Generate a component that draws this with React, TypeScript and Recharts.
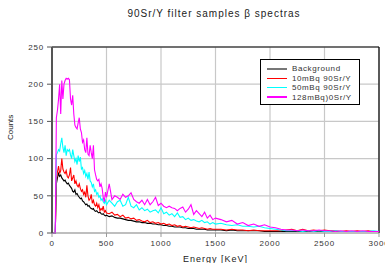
import React from 'react';
import { LineChart, Line, XAxis, YAxis, CartesianGrid, ReferenceLine } from 'recharts';

const energy = [
  0, 10, 20, 30, 40, 50, 60, 70, 80, 90, 100, 110, 120, 130, 140, 150, 160, 170, 180, 190, 200,
  210, 220, 230, 240, 250, 260, 270, 280, 290, 300, 310, 320, 330, 340, 350, 360, 370, 380, 390, 400,
  410, 420, 430, 440, 450, 460, 470, 480, 490, 500,
  525, 550, 575, 600, 625, 650, 675, 700, 725, 750, 775, 800, 825, 850, 875, 900, 925, 950, 975, 1000,
  1025, 1050, 1075, 1100, 1125, 1150, 1175, 1200, 1225, 1250, 1275, 1300, 1325, 1350, 1375, 1400,
  1425, 1450, 1475, 1500,
  1550, 1600, 1650, 1700, 1750, 1800, 1850, 1900, 1950, 2000, 2050, 2100, 2150, 2200, 2250, 2300,
  2350, 2400, 2450, 2500, 2550, 2600, 2650, 2700, 2750, 2800, 2850, 2900, 2950, 3000,
];

const background = [
  0, 0, 0, 0, 66, 74, 80, 76, 78, 74, 72, 70, 71, 68, 66, 67, 64, 62, 60, 56, 55,
  58, 52, 53, 50, 48, 46, 47, 43, 42, 40, 38, 39, 36, 37, 34, 33, 32, 33, 30, 29,
  30, 28, 27, 28, 26, 25, 26, 24, 23, 24,
  22, 23, 21, 20, 20, 19, 18, 17, 17, 16, 15, 15, 14, 14, 13, 13, 12, 12, 11, 11,
  10, 10, 9, 9, 8, 8, 8, 7, 7, 6, 6, 6, 5, 5, 5, 5,
  4, 4, 4, 4,
  4, 3, 4, 3, 3, 3, 3, 3, 2, 2, 2, 2, 2, 2, 2, 2,
  2, 2, 2, 2, 2, 2, 2, 2, 2, 2, 2, 2, 2, 2,
];

const sample10 = [
  0, 0, 0, 0, 70, 82, 90, 80, 84, 100, 86, 82, 80, 84, 76, 74, 78, 88, 70, 74, 78,
  66, 70, 64, 62, 66, 60, 56, 58, 52, 55, 48, 64, 50, 44, 46, 52, 40, 44, 38, 36,
  40, 34, 38, 30, 33, 31, 36, 28, 30, 27,
  26, 28, 24, 25, 22, 24, 20, 21, 19, 20, 17, 18, 16, 15, 17, 14, 15, 13, 14, 12,
  13, 11, 12, 10, 11, 9, 10, 8, 9, 8, 7, 8, 7, 6, 7, 6,
  5, 6, 5, 5,
  5, 4, 5, 4, 4, 3, 4, 3, 3, 3, 3, 3, 4, 5, 3, 5,
  3, 4, 3, 4, 3, 3, 2, 3, 2, 3, 2, 3, 2, 2,
];

const sample50 = [
  0, 0, 0, 0, 105, 108, 112, 110, 120, 128, 115, 108, 118, 104, 112, 110, 112, 105, 100, 112, 104,
  96, 100, 92, 104, 96, 102, 86, 88, 80, 84, 76, 80, 72, 82, 70, 68, 62, 66, 56, 58,
  52, 54, 48, 50, 44, 46, 42, 40, 44, 38,
  44, 40, 36, 42, 44, 36, 38, 48, 36, 34, 38, 31, 34, 30, 32, 28, 30, 31, 27, 34,
  26, 28, 24, 26, 22, 27, 21, 22, 18, 20, 17, 18, 16, 15, 17, 14,
  15, 12, 14, 12,
  13, 11, 10, 11, 9, 9, 8, 9, 7, 6, 5, 4, 3, 3, 3, 2,
  3, 2, 3, 2, 2, 3, 2, 2, 2, 2, 2, 2, 3, 2,
];

const sample128 = [
  0, 0, 0, 0, 155, 165, 180, 200, 160, 205, 180, 200, 205, 208, 207, 208, 206, 180, 172, 185, 160,
  145, 142, 140, 148, 155, 140, 135, 122, 125, 112, 108, 128, 106, 104, 118, 108, 100, 118, 85, 78,
  72, 70, 72, 62, 66, 60, 48, 42, 55, 48,
  66, 45, 50, 48, 45, 52, 48, 50, 54, 45, 42, 40, 44, 38, 45, 38, 42, 48, 37, 40,
  36, 34, 36, 34, 33, 30, 33, 35, 28, 32, 38, 25, 30, 26, 22, 28,
  20, 24, 18, 20,
  18, 15, 17, 12, 14, 10, 12, 9, 11, 8, 7, 5, 4, 4, 3, 4,
  3, 3, 4, 3, 3, 2, 3, 2, 3, 2, 3, 2, 2, 2,
];

const seriesNames = ['Background', '10mBq 90Sr/Y', '50mBq 90Sr/Y', '128mBq)0Sr/Y'];
const seriesKeys = ['bg', 's10', 's50', 's128'];
const seriesColors = ['#000000', '#ff0000', '#00ffff', '#ff00ff'];
const legendColors = ['#777777', '#ff0000', '#00ffff', '#ff00ff'];
const xTicks = [0, 500, 1000, 1500, 2000, 2500, 3000];
const yTicks = [0, 50, 100, 150, 200, 250];

const data = energy.map((e, i) => ({
  e,
  bg: background[i],
  s10: sample10[i],
  s50: sample50[i],
  s128: sample128[i],
}));

const FONT = '"Liberation Sans", Arial, sans-serif';

const LegendBox = () => (
  <div
    style={{
      position: 'absolute',
      left: 260,
      top: 59,
      border: '1px solid #000',
      background: '#fff',
      width: 100,
      height: 46,
      boxSizing: 'border-box',
      padding: '4px 0 0 6px',
      fontFamily: FONT,
      fontSize: 8,
      letterSpacing: 0.6,
      color: '#333',
    }}
  >
    {seriesNames.map((n, i) => (
      <div key={n} style={{ display: 'flex', alignItems: 'center', height: 9.5 }}>
        <div
          style={{
            width: 20,
            height: i === 0 || i === 3 ? 2 : 1.4,
            background: legendColors[i],
            marginRight: 5,
          }}
        />
        <span style={{ lineHeight: '9px' }}>{n}</span>
      </div>
    ))}
  </div>
);

export default function App() {
  return (
    <div style={{ position: 'absolute', left: 0, top: 0, width: 385, height: 263, overflow: 'hidden', background: '#fff' }}>
      <div
        style={{
          position: 'absolute',
          top: 8,
          left: 0,
          width: 428,
          textAlign: 'center',
          fontFamily: FONT,
          fontSize: 10,
          letterSpacing: 1,
          color: '#222',
        }}
      >
        90Sr/Y filter samples β spectras
      </div>
      <LineChart
        width={400}
        height={263}
        data={data}
        margin={{ top: 47, right: 21, left: 0, bottom: 0 }}
        style={{ fontFamily: FONT }}
      >
        <CartesianGrid stroke="#c8c8c8" strokeWidth={1.2} />
        <XAxis
          dataKey="e"
          type="number"
          domain={[0, 3000]}
          ticks={xTicks}
          height={30}
          tickSize={4}
          tickMargin={3}
          stroke="#999"
          tick={{ fontSize: 8, fill: '#333', letterSpacing: 0.8 }}
          label={{ value: 'Energy [KeV]', position: 'insideBottom', offset: 0, dy: -1, fontSize: 9, fill: '#222', letterSpacing: 1 }}
          interval={0}
        />
        <YAxis
          type="number"
          domain={[0, 250]}
          ticks={yTicks}
          width={52}
          tickSize={5}
          tickMargin={3}
          axisLine={{ stroke: '#555', strokeWidth: 2 }}
          tickLine={{ stroke: '#555' }}
          tick={{ fontSize: 8, fill: '#333', letterSpacing: 0.8 }}
          label={{ value: 'Counts', angle: -90, position: 'insideLeft', offset: 10, fontSize: 8, fill: '#222' }}
          interval={0}
        />
        <ReferenceLine y={250} stroke="#000" strokeWidth={1.2} />
        <ReferenceLine x={3000} stroke="#000" strokeWidth={1.2} />
        {seriesKeys.map((k, i) => (
          <Line
            key={k}
            dataKey={k}
            name={seriesNames[i]}
            stroke={seriesColors[i]}
            strokeWidth={1.1}
            dot={false}
            isAnimationActive={false}
          />
        ))}
      </LineChart>
      <LegendBox />
    </div>
  );
}
